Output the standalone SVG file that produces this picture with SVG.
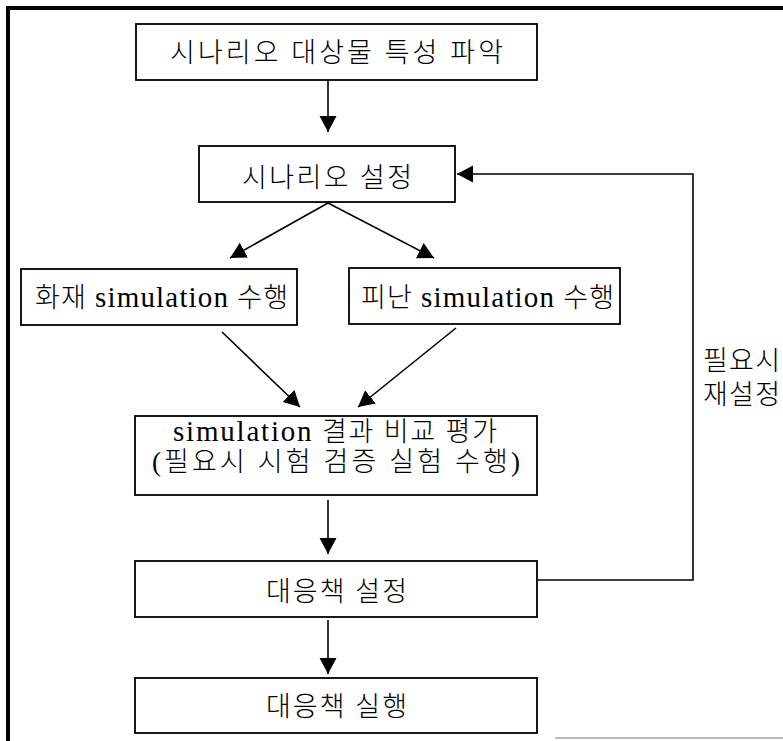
<svg xmlns="http://www.w3.org/2000/svg" width="783" height="741" viewBox="0 0 783 741">
<defs>
<style>
.box{fill:#fff;stroke:#000;stroke-width:1.8}
.t{font-family:"Liberation Serif","Noto Sans CJK KR",serif;font-size:27px;font-weight:300;fill:#000;text-anchor:start}
.s{font-size:29px;font-weight:400}
.c{fill:none;stroke:#000;stroke-width:1.6}
.frame{stroke:#000;stroke-width:4;fill:none}
</style>
<marker id="ah" markerUnits="userSpaceOnUse" markerWidth="18" markerHeight="18" viewBox="0 0 18 18" refX="16" refY="9" orient="auto">
<path d="M0,0.5 L16,9 L0,17.5 Z" fill="#000"/>
</marker>
</defs>
<rect width="783" height="741" fill="#fff"/>
<g id="frame">
<line class="frame" x1="8" y1="6" x2="8" y2="741"/>
<line class="frame" x1="6" y1="8" x2="783" y2="8"/>
<line x1="555" y1="738" x2="783" y2="738" stroke="#bbb" stroke-width="2"/>
</g>
<g id="connectors">
<line class="c" x1="328" y1="80" x2="328" y2="132" marker-end="url(#ah)"/>
<line class="c" x1="328" y1="203" x2="230" y2="258" marker-end="url(#ah)"/>
<line class="c" x1="328" y1="203" x2="434" y2="258" marker-end="url(#ah)"/>
<line class="c" x1="222" y1="332" x2="300" y2="407" marker-end="url(#ah)"/>
<line class="c" x1="456" y1="328" x2="358" y2="407" marker-end="url(#ah)"/>
<line class="c" x1="328" y1="500" x2="328" y2="554" marker-end="url(#ah)"/>
<line class="c" x1="328" y1="620" x2="328" y2="674" marker-end="url(#ah)"/>
<polyline class="c" points="537,580 693,580 693,174 457,174" marker-end="url(#ah)"/>
</g>
<g id="n1">
<rect class="box" x="136" y="24" width="401" height="56"/>
<text class="t" x="170" y="62" textLength="333" lengthAdjust="spacing">시나리오 대상물 특성 파악</text>
</g>
<g id="n2">
<rect class="box" x="199" y="146" width="256" height="56"/>
<text class="t" x="242" y="187" textLength="170" lengthAdjust="spacing">시나리오 설정</text>
</g>
<g id="n3">
<rect class="box" x="21" y="269" width="276" height="56"/>
<text class="t" x="35" y="307" textLength="253" lengthAdjust="spacing">화재 <tspan class="s">simulation</tspan> 수행</text>
</g>
<g id="n4">
<rect class="box" x="349" y="268" width="271" height="56"/>
<text class="t" x="361" y="307" textLength="253" lengthAdjust="spacing">피난 <tspan class="s">simulation</tspan> 수행</text>
</g>
<g id="n5">
<rect class="box" x="135" y="416" width="402" height="79"/>
<text class="t" x="173" y="441" textLength="324" lengthAdjust="spacing"><tspan class="s">simulation</tspan> 결과 비교 평가</text>
<text class="t" x="152" y="471" textLength="368" lengthAdjust="spacing">(필요시 시험 검증 실험 수행)</text>
</g>
<g id="n6">
<rect class="box" x="135" y="561" width="402" height="56"/>
<text class="t" x="266" y="601" textLength="141" lengthAdjust="spacing">대응책 설정</text>
</g>
<g id="n7">
<rect class="box" x="135" y="678" width="402" height="55"/>
<text class="t" x="266" y="716" textLength="141" lengthAdjust="spacing">대응책 실행</text>
</g>
<g id="label">
<text class="t" x="703" y="370" textLength="77" lengthAdjust="spacing">필요시</text>
<text class="t" x="703" y="404" textLength="77" lengthAdjust="spacing">재설정</text>
</g>
</svg>
